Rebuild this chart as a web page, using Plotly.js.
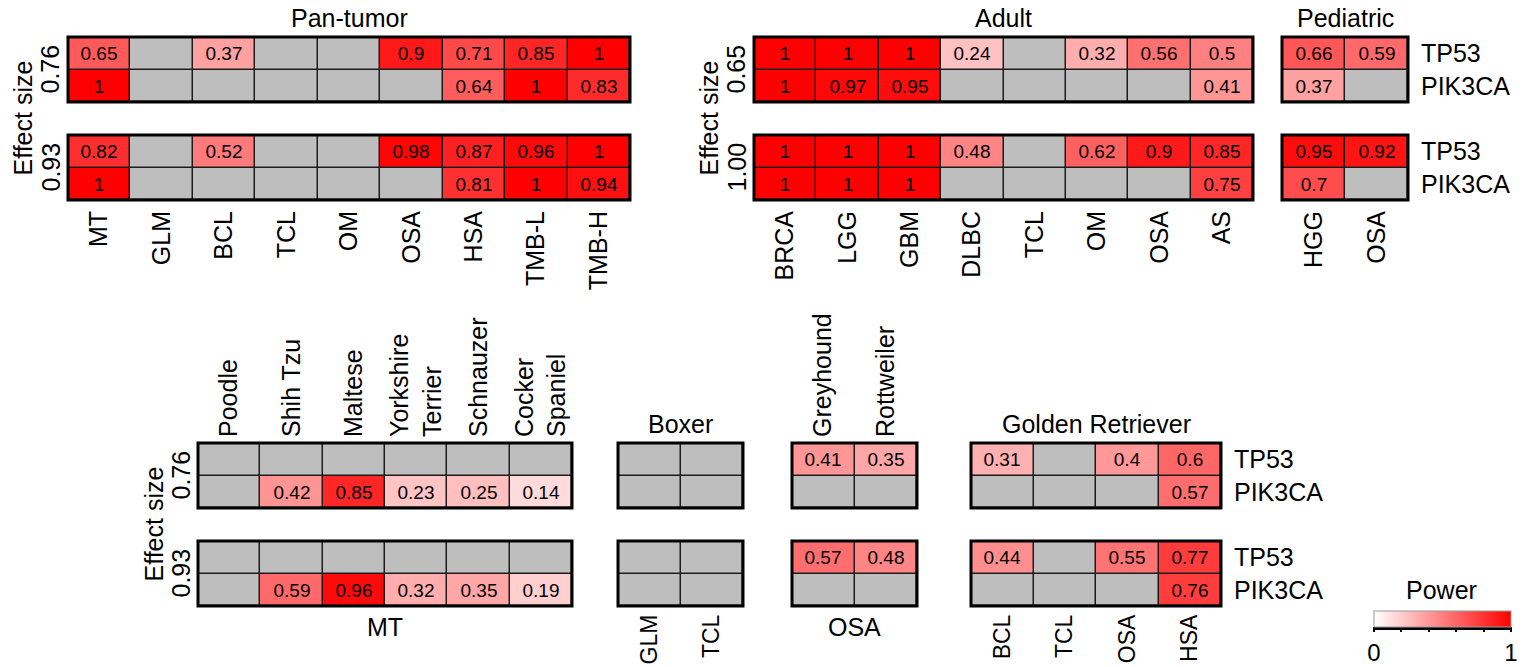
<!DOCTYPE html>
<html>
<head>
<meta charset="utf-8">
<script src="https://cdn.plot.ly/plotly-3.0.1.min.js"></script>
<style>
  html, body { margin: 0; padding: 0; background: #fff; }
  #chart { width: 1524px; height: 667px; }
</style>
</head>
<body>
<div id="chart"></div>
<script>
// ---- data: statistical power per tumour type / breed, gene and effect size ----
const genes = ['TP53', 'PIK3CA'];

// Pan-tumor (effect sizes 0.76 / 0.93)
const panCats = ['MT', 'GLM', 'BCL', 'TCL', 'OM', 'OSA', 'HSA', 'TMB-L', 'TMB-H'];
const panEffects = ['0.76', '0.93'];
const panLowTP53   = [0.65, null, 0.37, null, null, 0.9,  0.71, 0.85, 1];
const panLowPIK3CA = [1,    null, null, null, null, null, 0.64, 1,    0.83];
const panHighTP53   = [0.82, null, 0.52, null, null, 0.98, 0.87, 0.96, 1];
const panHighPIK3CA = [1,    null, null, null, null, null, 0.81, 1,    0.94];

// Adult (effect sizes 0.65 / 1.00)
const adultCats = ['BRCA', 'LGG', 'GBM', 'DLBC', 'TCL', 'OM', 'OSA', 'AS'];
const adultEffects = ['0.65', '1.00'];
const adultLowTP53   = [1, 1,    1,    0.24, null, 0.32, 0.56, 0.5];
const adultLowPIK3CA = [1, 0.97, 0.95, null, null, null, null, 0.41];
const adultHighTP53   = [1, 1, 1, 0.48, null, 0.62, 0.9, 0.85];
const adultHighPIK3CA = [1, 1, 1, null, null, null, null, 0.75];

// Pediatric
const pedCats = ['HGG', 'OSA'];
const pedLowTP53 = [0.66, 0.59];
const pedLowPIK3CA = [0.37, null];
const pedHighTP53 = [0.95, 0.92];
const pedHighPIK3CA = [0.7, null];

// Breed-specific (effect sizes 0.76 / 0.93)
const breedEffects = ['0.76', '0.93'];
const mtBreeds = ['Poodle', 'Shih Tzu', 'Maltese', 'Yorkshire<br>Terrier', 'Schnauzer', 'Cocker<br>Spaniel'];
const mtLowTP53   = [null, null, null, null, null, null];
const mtLowPIK3CA = [null, 0.42, 0.85, 0.23, 0.25, 0.14];
const mtHighTP53   = [null, null, null, null, null, null];
const mtHighPIK3CA = [null, 0.59, 0.96, 0.32, 0.35, 0.19];

const boxerCats = ['GLM', 'TCL'];
const boxerLowTP53 = [null, null];
const boxerLowPIK3CA = [null, null];
const boxerHighTP53 = [null, null];
const boxerHighPIK3CA = [null, null];

const osaBreeds = ['Greyhound', 'Rottweiler'];
const osaLowTP53 = [0.41, 0.35];
const osaLowPIK3CA = [null, null];
const osaHighTP53 = [0.57, 0.48];
const osaHighPIK3CA = [null, null];

const goldenCats = ['BCL', 'TCL', 'OSA', 'HSA'];
const goldenLowTP53   = [0.31, null, 0.4, 0.6];
const goldenLowPIK3CA = [null, null, null, 0.57];
const goldenHighTP53   = [0.44, null, 0.55, 0.77];
const goldenHighPIK3CA = [null, null, null, 0.76];

// ---- page geometry ----
const W = 1524, H = 667;
const FONT = 'Liberation Sans, Arial, Helvetica, sans-serif';
const TITLE_SIZE = 25;
const TICK_SIZE = 25;
const CELL_SIZE = 19;
const NA_GREY = '#bebebe';
const powerScale = [[0, '#ffffff'], [1, '#ff0000']];

const fx = p => p / W;
const fy = p => 1 - p / H;

const data = [];
const layout = {
  width: W, height: H,
  margin: { l: 0, r: 0, t: 0, b: 0, autoexpand: false },
  paper_bgcolor: '#ffffff',
  plot_bgcolor: '#1c1c1c',
  font: { family: FONT, color: '#000', size: TITLE_SIZE },
  showlegend: false,
  annotations: [],
  shapes: []
};

let axisCount = 0;
let scaleShown = false;

// one 2-row heatmap block: grey bricks for missing values, power bricks on top
function block(cats, tp53, pik3ca, left, right, top, bottom, opt) {
  axisCount += 1;
  const n = axisCount === 1 ? '' : String(axisCount);
  const xa = 'x' + n, ya = 'y' + n;
  const z = [tp53, pik3ca];
  const naZ = z.map(r => r.map(v => (v === null ? 1 : null)));
  const txt = z.map(r => r.map(v => (v === null ? '' : String(v))));

  data.push({
    type: 'heatmap', x: cats, y: genes, z: naZ, xaxis: xa, yaxis: ya,
    colorscale: [[0, NA_GREY], [1, NA_GREY]], showscale: false,
    xgap: 1.5, ygap: 1.5, hoverinfo: 'skip'
  });

  const tr = {
    type: 'heatmap', x: cats, y: genes, z: z, xaxis: xa, yaxis: ya,
    zmin: 0, zmax: 1, colorscale: powerScale,
    text: txt, texttemplate: '%{text}',
    textfont: { family: FONT, size: CELL_SIZE, color: '#000' },
    xgap: 1.5, ygap: 1.5, hoverinfo: 'skip', showscale: false
  };
  if (!scaleShown) {
    scaleShown = true;
    tr.showscale = true;
    tr.colorbar = {
      orientation: 'h',
      lenmode: 'pixels', len: 137, thickness: 16,
      x: fx(1442.5), xanchor: 'center',
      y: fy(611), yanchor: 'top', xpad: 0, ypad: 0,
      outlinewidth: 1, outlinecolor: '#9a9a9a',
      tickmode: 'array',
      tickvals: [0, 0.2, 0.4, 0.6, 0.8, 1],
      ticktext: ['0', '', '', '', '', '1'],
      ticks: 'outside', ticklen: 5, tickwidth: 2, tickcolor: '#000',
      tickfont: { family: FONT, size: 24 }
    };
  }
  data.push(tr);

  layout['xaxis' + n] = {
    domain: [fx(left), fx(right)], anchor: ya,
    type: 'category', categoryarray: cats, categoryorder: 'array',
    showgrid: false, zeroline: false, showline: false, ticks: '',
    fixedrange: true,
    showticklabels: !!opt.xlabels, side: opt.xside || 'bottom',
    tickangle: -90, ticklabelstandoff: opt.standoff || 5,
    tickfont: { family: FONT, size: opt.tickSize || TICK_SIZE, color: '#000' }
  };
  layout['yaxis' + n] = {
    domain: [fy(bottom), fy(top)], anchor: xa,
    type: 'category', autorange: 'reversed',
    showgrid: false, zeroline: false, showline: false, ticks: '',
    fixedrange: true,
    showticklabels: !!opt.ylabels, side: 'right', ticklabelstandoff: 12,
    tickfont: { family: FONT, size: TITLE_SIZE, color: '#000' }
  };
  layout.shapes.push({
    type: 'rect', xref: xa + ' domain', yref: ya + ' domain',
    x0: 0, x1: 1, y0: 0, y1: 1,
    line: { color: '#000', width: 3 }, fillcolor: 'rgba(0,0,0,0)', layer: 'above'
  });
}

function note(text, x, y, angle) {
  layout.annotations.push({
    text: text, xref: 'paper', yref: 'paper', x: fx(x), y: fy(y),
    xanchor: 'center', yanchor: 'middle', showarrow: false,
    textangle: angle || 0,
    font: { family: FONT, size: TITLE_SIZE, color: '#000' }
  });
}

// ---- top row ----
const TOP_A = [37, 102], TOP_B = [135, 200];
block(panCats, panLowTP53, panLowPIK3CA, 68, 630, TOP_A[0], TOP_A[1], {});
block(panCats, panHighTP53, panHighPIK3CA, 68, 630, TOP_B[0], TOP_B[1], { xlabels: true });
block(adultCats, adultLowTP53, adultLowPIK3CA, 754, 1253, TOP_A[0], TOP_A[1], {});
block(adultCats, adultHighTP53, adultHighPIK3CA, 754, 1253, TOP_B[0], TOP_B[1], { xlabels: true });
block(pedCats, pedLowTP53, pedLowPIK3CA, 1282, 1408, TOP_A[0], TOP_A[1], { ylabels: true });
block(pedCats, pedHighTP53, pedHighPIK3CA, 1282, 1408, TOP_B[0], TOP_B[1], { xlabels: true, ylabels: true });

note('Pan-tumor', 349, 18);
note('Adult', 1003, 18);
note('Pediatric', 1345, 18);
note('Effect size', 23, 118.5, -90);
note(panEffects[0], 50, 69.5, -90);
note(panEffects[1], 50, 167.5, -90);
note('Effect size', 709, 118.5, -90);
note(adultEffects[0], 736, 69.5, -90);
note(adultEffects[1], 736, 167.5, -90);

// ---- bottom row (labels under the last row are set a little smaller to fit the page) ----
const BOT_A = [443, 508], BOT_B = [541, 606];
const lowLabels = { xlabels: true, tickSize: 23, standoff: 3 };
block(mtBreeds, mtLowTP53, mtLowPIK3CA, 198, 572, BOT_A[0], BOT_A[1], { xlabels: true, xside: 'top' });
block(mtBreeds, mtHighTP53, mtHighPIK3CA, 198, 572, BOT_B[0], BOT_B[1], {});
block(boxerCats, boxerLowTP53, boxerLowPIK3CA, 618, 743, BOT_A[0], BOT_A[1], {});
block(boxerCats, boxerHighTP53, boxerHighPIK3CA, 618, 743, BOT_B[0], BOT_B[1], lowLabels);
block(osaBreeds, osaLowTP53, osaLowPIK3CA, 792, 917, BOT_A[0], BOT_A[1], { xlabels: true, xside: 'top' });
block(osaBreeds, osaHighTP53, osaHighPIK3CA, 792, 917, BOT_B[0], BOT_B[1], {});
block(goldenCats, goldenLowTP53, goldenLowPIK3CA, 971, 1221, BOT_A[0], BOT_A[1], { ylabels: true });
block(goldenCats, goldenHighTP53, goldenHighPIK3CA, 971, 1221, BOT_B[0], BOT_B[1],
      Object.assign({ ylabels: true }, lowLabels));

note('Boxer', 680.5, 424);
note('Golden Retriever', 1096, 424);
note('MT', 385, 627);
note('OSA', 854.5, 627);
note('Effect size', 153, 524.5, -90);
note(breedEffects[0], 180, 475.5, -90);
note(breedEffects[1], 180, 573.5, -90);
note('Power', 1441, 590);

// heavy baseline under the colour bar
layout.shapes.push({
  type: 'line', xref: 'paper', yref: 'paper',
  x0: fx(1374), x1: fx(1511), y0: fy(628.5), y1: fy(628.5),
  line: { color: '#000', width: 3 }
});

Plotly.newPlot('chart', data, layout, { displayModeBar: false, staticPlot: true });
</script>
</body>
</html>
